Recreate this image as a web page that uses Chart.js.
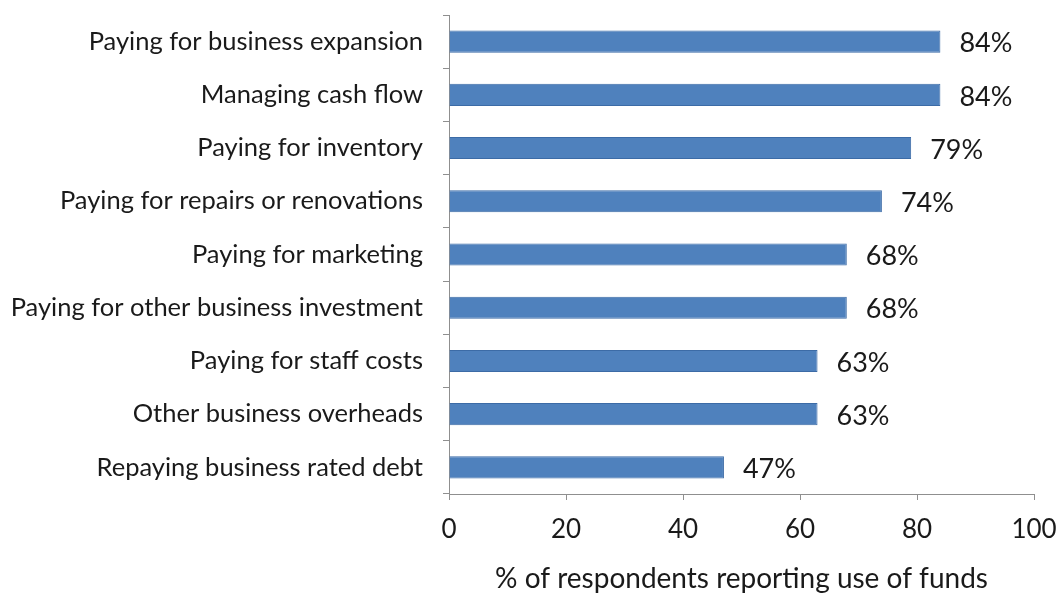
<!DOCTYPE html>
<html>
<head>
<meta charset="utf-8">
<script src="https://cdn.jsdelivr.net/npm/chart.js@4"></script>
<style>
  body { margin: 0; background: #fff; }
</style>
</head>
<body>
<canvas id="myChart" width="1062" height="596"></canvas>
<script>
const categories = [
  'Paying for business expansion',
  'Managing cash flow',
  'Paying for inventory',
  'Paying for repairs or renovations',
  'Paying for marketing',
  'Paying for other business investment',
  'Paying for staff costs',
  'Other business overheads',
  'Repaying business rated debt'
];
const usePercent = [84, 84, 79, 74, 68, 68, 63, 63, 47];
const xTicks = [0, 20, 40, 60, 80, 100];

const fontFamily = 'Lato, "Open Sans", sans-serif';
const textColor = '#1a1a1a';
const axisColor = '#8f8f8f';

// draws "84%" etc. at the end of each bar
const valueLabels = {
  id: 'valueLabels',
  afterDatasetsDraw(chart) {
    const ctx = chart.ctx;
    const meta = chart.getDatasetMeta(0);
    ctx.save();
    ctx.font = '27px ' + fontFamily;
    ctx.fillStyle = textColor;
    ctx.textAlign = 'left';
    ctx.textBaseline = 'middle';
    meta.data.forEach((bar, i) => {
      ctx.fillText(usePercent[i] + '%', bar.x + 19, bar.y + 2);
    });
    ctx.restore();
  }
};

new Chart(document.getElementById('myChart'), {
  type: 'bar',
  data: {
    labels: categories,
    datasets: [{
      data: usePercent,
      backgroundColor: '#4f81bd',
      borderColor: '#3c6ba6',
      borderWidth: 1,
      barPercentage: 0.83,
      categoryPercentage: 0.5
    }]
  },
  options: {
    indexAxis: 'y',
    responsive: false,
    animation: false,
    layout: { padding: { top: 15, right: 28, left: 0, bottom: 0 } },
    plugins: {
      legend: { display: false },
      tooltip: { enabled: false }
    },
    scales: {
      x: {
        min: 0,
        max: 100,
        afterBuildTicks(scale) {
          scale.ticks = xTicks.map(v => ({ value: v }));
        },
        afterFit(scale) {
          scale.height = 102;
          scale.paddingLeft = 0;
          scale.paddingRight = 0;
        },
        grid: {
          drawOnChartArea: false,
          tickLength: 6,
          color: axisColor
        },
        border: { color: axisColor },
        ticks: {
          color: textColor,
          padding: 14,
          font: { family: fontFamily, size: 26 }
        },
        title: {
          display: true,
          text: '% of respondents reporting use of funds',
          color: textColor,
          font: { family: fontFamily, size: 28 },
          padding: { top: 0, bottom: 0 }
        }
      },
      y: {
        afterFit(scale) {
          scale.width = 449;
          scale.paddingTop = 0;
          scale.paddingBottom = 0;
        },
        grid: {
          drawOnChartArea: false,
          tickLength: 6,
          color: axisColor
        },
        border: { color: axisColor },
        ticks: {
          color: textColor,
          padding: 20,
          font: { family: fontFamily, size: 25.5 }
        }
      }
    }
  },
  plugins: [valueLabels]
});
</script>
</body>
</html>
